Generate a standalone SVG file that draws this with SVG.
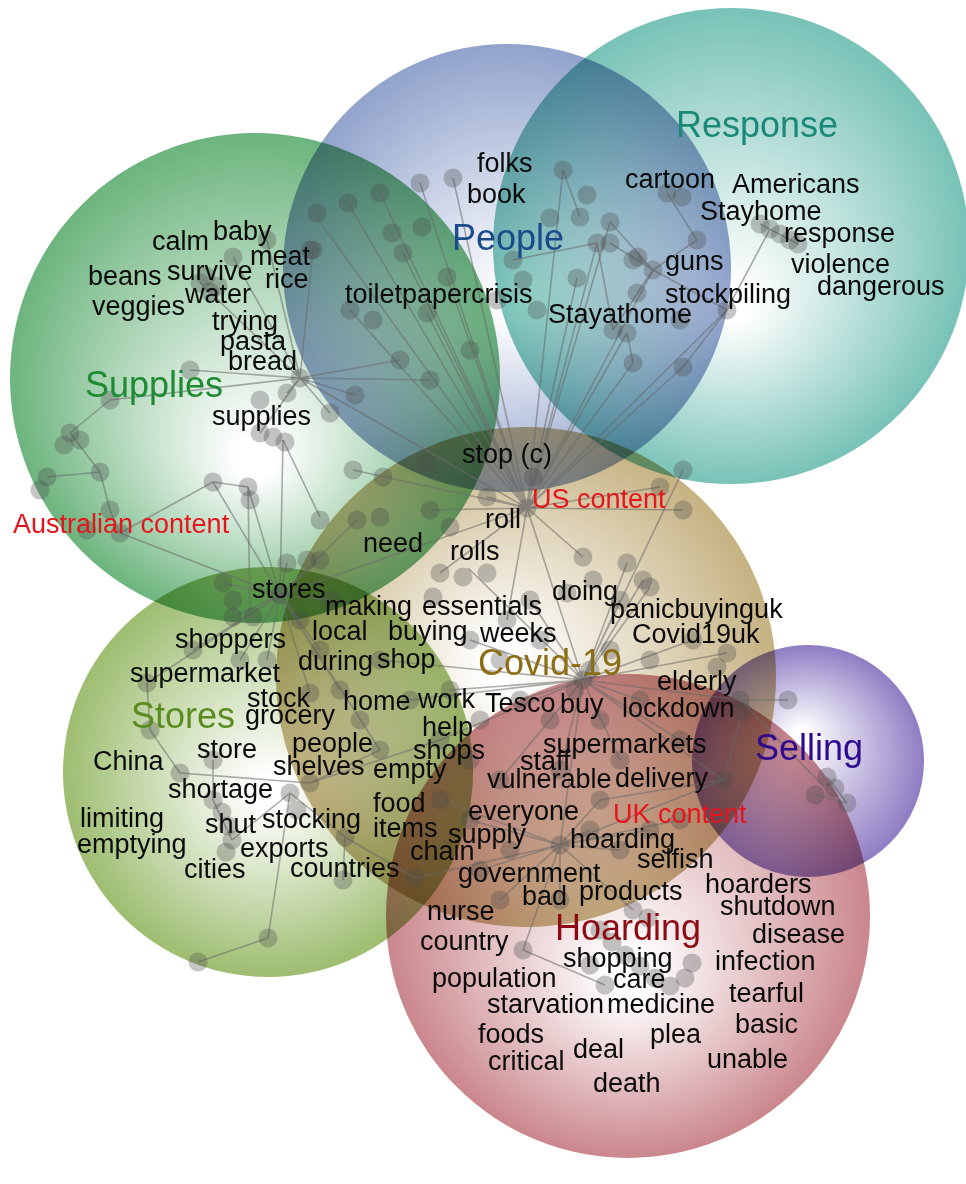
<svg xmlns="http://www.w3.org/2000/svg" width="966" height="1184" viewBox="0 0 966 1184">
  <defs>
    <radialGradient id="g-supplies" cx="0.5" cy="0.5" r="0.5" fx="0.5" fy="0.68">
      <stop offset="0.08" stop-color="#ffffff"/>
      <stop offset="1" stop-color="#6cb47d"/>
    </radialGradient>
    <radialGradient id="g-people" cx="0.5" cy="0.5" r="0.5" fx="0.53" fy="0.58">
      <stop offset="0.08" stop-color="#ffffff"/>
      <stop offset="1" stop-color="#91a3cc"/>
    </radialGradient>
    <radialGradient id="g-response" cx="0.5" cy="0.5" r="0.5" fx="0.5" fy="0.63">
      <stop offset="0.08" stop-color="#ffffff"/>
      <stop offset="1" stop-color="#78c2b7"/>
    </radialGradient>
    <radialGradient id="g-covid" cx="0.5" cy="0.5" r="0.5" fx="0.45" fy="0.47">
      <stop offset="0.08" stop-color="#ffffff"/>
      <stop offset="1" stop-color="#c6b282"/>
    </radialGradient>
    <radialGradient id="g-stores" cx="0.5" cy="0.5" r="0.5" fx="0.5" fy="0.55">
      <stop offset="0.08" stop-color="#ffffff"/>
      <stop offset="1" stop-color="#9dbd70"/>
    </radialGradient>
    <radialGradient id="g-hoarding" cx="0.5" cy="0.5" r="0.5" fx="0.5" fy="0.64">
      <stop offset="0.08" stop-color="#ffffff"/>
      <stop offset="1" stop-color="#ca878c"/>
    </radialGradient>
    <radialGradient id="g-selling" cx="0.5" cy="0.5" r="0.5" fx="0.47" fy="0.38">
      <stop offset="0.05" stop-color="#ffffff"/>
      <stop offset="1" stop-color="#8f7dc4"/>
    </radialGradient>
    <style>
      .topic { mix-blend-mode: multiply; }
      .dots circle { fill: #4a4a4a; fill-opacity: 0.32; }
      .links { fill: none; stroke: #6a6a6a; stroke-opacity: 0.55; stroke-width: 1.6; }
      text { font-family: "Liberation Sans", Arial, sans-serif; }
      .w { font-size: 27px; fill: #0a0a0a; }
      .cat { font-size: 36px; }
      .region { font-size: 27px; fill: #e8141c; }
    </style>
  </defs>

  <rect width="966" height="1184" fill="#ffffff"/>

  <!-- topic circles -->
  <g id="topic-circles">
    <g id="circle-supplies"><circle class="topic" cx="255" cy="378" r="245" fill="url(#g-supplies)"/></g>
    <g id="circle-people"><circle class="topic" cx="507" cy="268" r="224" fill="url(#g-people)"/></g>
    <g id="circle-response"><circle class="topic" cx="731" cy="246" r="238" fill="url(#g-response)"/></g>
    <g id="circle-stores"><circle class="topic" cx="268" cy="772" r="205" fill="url(#g-stores)"/></g>
    <g id="circle-covid"><circle class="topic" cx="526" cy="677" r="250" fill="url(#g-covid)"/></g>
    <g id="circle-hoarding"><circle class="topic" cx="628" cy="916" r="242" fill="url(#g-hoarding)"/></g>
    <g id="circle-selling"><circle class="topic" cx="808" cy="761" r="116" fill="url(#g-selling)"/></g>
  </g>

  <!-- co-occurrence links -->
  <g id="connectors" class="links">
    <path d="M527 508L317 218M527 508L348 203M527 508L380 193M527 508L420 183M527 508L453 178M527 508L403 253M527 508L447 277M527 508L563 170M527 508L597 243M527 508L610 222M527 508L653 270M527 508L727 310M527 508L627 333M527 508L350 310M527 508L427 313M527 508L353 470M527 508L430 510M527 508L487 497M527 508L533 477M527 508L660 487M527 508L683 510M527 508L583 557M527 508L583 680M527 508L507 620M527 508L440 573M527 508L633 363M527 508L577 278M527 508L683 367M527 508L280 595M527 508L300 378"/>
    <path d="M583 680L627 563M583 680L643 580M583 680L650 587M583 680L693 640M583 680L727 653M583 680L740 700M583 680L600 720M583 680L640 700M583 680L520 700M583 680L470 640M583 680L450 690M583 680L500 780M583 680L560 770M583 680L620 760M583 680L680 740M583 680L410 700M583 680L380 660M583 680L468 568M583 680L530 600M583 680L620 600M583 680L723 780M583 680L560 845M583 680L683 470M583 680L440 740"/>
    <path d="M560 845L523 950M560 845L633 910M560 845L500 900M560 845L480 870M560 845L470 820M560 845L440 800M560 845L600 800M560 845L650 830M560 845L680 820M560 845L590 830M560 845L620 850M560 845L415 878M560 845L723 780M560 845L560 900"/>
    <path d="M280 595L120 533M280 595L248 487M280 595L213 482M280 595L283 440M280 595L223 583M280 595L233 617M280 595L193 650M280 595L240 660M280 595L267 660M280 595L310 693M280 595L300 620M280 595L320 650M280 595L330 600M280 595L287 563M280 595L320 560M280 595L357 520M280 595L147 683M280 595L380 750M280 595L340 690"/>
    <path d="M300 378L200 283M300 378L233 257M300 378L267 240M300 378L313 250M300 378L190 370M300 378L110 400M300 378L287 393M300 378L330 413M300 378L260 433M300 378L400 360M300 378L430 380M300 378L355 395"/>
    <path d="M653 270L697 240M653 270L610 243M653 270L638 257M653 270L637 293M653 270L727 310M653 270L610 222M653 270L613 330M697 240L667 193M727 310L770 229M727 310L683 367M760 224L798 244M627 333L633 363"/>
    <path d="M70 433L100 472M47 477L100 472M100 472L110 510M110 510L120 533M120 533L213 482M213 482L248 487M248 487L250 617M283 440L320 517M110 400L70 433"/>
    <path d="M180 773L310 783M290 793L268 938M268 938L198 962M213 760L213 800M213 800L232 840M180 773L150 730M150 730L147 683M290 793L345 837M345 837L415 878M343 880L345 837M310 783L380 750M232 840L290 793M310 783L440 740"/>
    <path d="M513 260L597 243M597 243L613 330M563 170L580 217"/>
    <path d="M740 700L788 700M740 700L827 790M827 777L847 803M815 795L847 803M743 712L723 780M723 780L600 800M523 950L605 985"/>
  </g>

  <!-- term nodes -->
  <g id="term-dots" class="dots">
    <!-- supplies / australia -->
    <circle cx="317" cy="213" r="9.5"/><circle cx="313" cy="250" r="9.5"/><circle cx="267" cy="240" r="9.5"/><circle cx="233" cy="257" r="9.5"/>
    <circle cx="200" cy="283" r="9.5"/><circle cx="210" cy="292" r="9.5"/><circle cx="206" cy="276" r="9.5"/><circle cx="218" cy="286" r="9.5"/>
    <circle cx="300" cy="378" r="9.5"/><circle cx="287" cy="393" r="9.5"/><circle cx="190" cy="370" r="9.5"/><circle cx="110" cy="400" r="9.5"/>
    <circle cx="70" cy="433" r="9.5"/><circle cx="80" cy="440" r="9.5"/><circle cx="64" cy="445" r="9.5"/><circle cx="260" cy="400" r="9.5"/>
    <circle cx="330" cy="413" r="9.5"/><circle cx="273" cy="437" r="9.5"/><circle cx="285" cy="442" r="9.5"/><circle cx="47" cy="477" r="9.5"/>
    <circle cx="40" cy="490" r="9.5"/><circle cx="100" cy="472" r="9.5"/><circle cx="110" cy="510" r="9.5"/><circle cx="87" cy="530" r="9.5"/>
    <circle cx="120" cy="533" r="9.5"/><circle cx="213" cy="482" r="9.5"/><circle cx="248" cy="487" r="9.5"/><circle cx="250" cy="500" r="9.5"/>
    <circle cx="260" cy="433" r="9.5"/><circle cx="355" cy="395" r="9.5"/>
    <!-- stores -->
    <circle cx="287" cy="563" r="9.5"/><circle cx="307" cy="560" r="9.5"/><circle cx="320" cy="560" r="9.5"/><circle cx="223" cy="583" r="9.5"/>
    <circle cx="233" cy="600" r="9.5"/><circle cx="233" cy="617" r="9.5"/><circle cx="253" cy="617" r="9.5"/><circle cx="193" cy="650" r="9.5"/>
    <circle cx="240" cy="660" r="9.5"/><circle cx="267" cy="660" r="9.5"/><circle cx="147" cy="683" r="9.5"/><circle cx="150" cy="730" r="9.5"/>
    <circle cx="310" cy="693" r="9.5"/><circle cx="180" cy="773" r="9.5"/><circle cx="213" cy="760" r="9.5"/><circle cx="213" cy="800" r="9.5"/>
    <circle cx="222" cy="812" r="9.5"/><circle cx="228" cy="826" r="9.5"/><circle cx="232" cy="840" r="9.5"/><circle cx="226" cy="852" r="9.5"/>
    <circle cx="290" cy="793" r="9.5"/><circle cx="297" cy="810" r="9.5"/><circle cx="310" cy="783" r="9.5"/><circle cx="268" cy="938" r="9.5"/>
    <circle cx="198" cy="962" r="9.5"/><circle cx="345" cy="837" r="9.5"/><circle cx="343" cy="880" r="9.5"/><circle cx="415" cy="878" r="9.5"/>
    <circle cx="380" cy="750" r="9.5"/><circle cx="300" cy="620" r="9.5"/><circle cx="320" cy="650" r="9.5"/><circle cx="340" cy="690" r="9.5"/>
    <circle cx="360" cy="720" r="9.5"/><circle cx="330" cy="600" r="9.5"/><circle cx="280" cy="595" r="9.5"/>
    <!-- people -->
    <circle cx="348" cy="203" r="9.5"/><circle cx="380" cy="193" r="9.5"/><circle cx="420" cy="183" r="9.5"/><circle cx="453" cy="178" r="9.5"/>
    <circle cx="310" cy="250" r="9.5"/><circle cx="392" cy="233" r="9.5"/><circle cx="422" cy="227" r="9.5"/><circle cx="403" cy="253" r="9.5"/>
    <circle cx="447" cy="277" r="9.5"/><circle cx="427" cy="313" r="9.5"/><circle cx="350" cy="310" r="9.5"/><circle cx="373" cy="320" r="9.5"/>
    <circle cx="497" cy="300" r="9.5"/><circle cx="513" cy="260" r="9.5"/><circle cx="523" cy="280" r="9.5"/><circle cx="537" cy="310" r="9.5"/>
    <circle cx="563" cy="170" r="9.5"/><circle cx="587" cy="195" r="9.5"/><circle cx="550" cy="218" r="9.5"/><circle cx="580" cy="217" r="9.5"/>
    <circle cx="610" cy="222" r="9.5"/><circle cx="597" cy="243" r="9.5"/><circle cx="577" cy="278" r="9.5"/><circle cx="633" cy="260" r="9.5"/>
    <circle cx="653" cy="270" r="9.5"/><circle cx="637" cy="293" r="9.5"/><circle cx="613" cy="330" r="9.5"/><circle cx="400" cy="360" r="9.5"/>
    <circle cx="430" cy="380" r="9.5"/><circle cx="470" cy="350" r="9.5"/>
    <!-- response -->
    <circle cx="667" cy="193" r="9.5"/><circle cx="682" cy="197" r="9.5"/><circle cx="697" cy="240" r="9.5"/><circle cx="610" cy="243" r="9.5"/>
    <circle cx="638" cy="257" r="9.5"/><circle cx="727" cy="310" r="9.5"/><circle cx="680" cy="320" r="9.5"/><circle cx="627" cy="333" r="9.5"/>
    <circle cx="633" cy="363" r="9.5"/><circle cx="683" cy="367" r="9.5"/><circle cx="760" cy="224" r="9.5"/><circle cx="770" cy="229" r="9.5"/>
    <circle cx="780" cy="234" r="9.5"/><circle cx="790" cy="240" r="9.5"/><circle cx="798" cy="244" r="9.5"/>
    <!-- covid-19 -->
    <circle cx="353" cy="470" r="9.5"/><circle cx="383" cy="477" r="9.5"/><circle cx="427" cy="463" r="9.5"/><circle cx="320" cy="520" r="9.5"/>
    <circle cx="357" cy="520" r="9.5"/><circle cx="380" cy="517" r="9.5"/><circle cx="430" cy="510" r="9.5"/><circle cx="450" cy="527" r="9.5"/>
    <circle cx="487" cy="497" r="9.5"/><circle cx="527" cy="508" r="9.5"/><circle cx="533" cy="477" r="9.5"/><circle cx="583" cy="557" r="9.5"/>
    <circle cx="660" cy="487" r="9.5"/><circle cx="683" cy="470" r="9.5"/><circle cx="683" cy="510" r="9.5"/><circle cx="440" cy="573" r="9.5"/>
    <circle cx="463" cy="577" r="9.5"/><circle cx="487" cy="573" r="9.5"/><circle cx="433" cy="597" r="9.5"/><circle cx="627" cy="563" r="9.5"/>
    <circle cx="643" cy="580" r="9.5"/><circle cx="593" cy="580" r="9.5"/><circle cx="507" cy="620" r="9.5"/><circle cx="567" cy="593" r="9.5"/>
    <circle cx="530" cy="600" r="9.5"/><circle cx="620" cy="600" r="9.5"/><circle cx="650" cy="587" r="9.5"/><circle cx="693" cy="640" r="9.5"/>
    <circle cx="727" cy="653" r="9.5"/><circle cx="717" cy="667" r="9.5"/><circle cx="740" cy="700" r="9.5"/><circle cx="743" cy="712" r="9.5"/>
    <circle cx="788" cy="700" r="9.5"/><circle cx="723" cy="780" r="9.5"/><circle cx="470" cy="640" r="9.5"/><circle cx="500" cy="660" r="9.5"/>
    <circle cx="540" cy="640" r="9.5"/><circle cx="610" cy="650" r="9.5"/><circle cx="650" cy="660" r="9.5"/><circle cx="450" cy="690" r="9.5"/>
    <circle cx="480" cy="720" r="9.5"/><circle cx="520" cy="700" r="9.5"/><circle cx="550" cy="720" r="9.5"/><circle cx="600" cy="720" r="9.5"/>
    <circle cx="640" cy="700" r="9.5"/><circle cx="470" cy="760" r="9.5"/><circle cx="500" cy="780" r="9.5"/><circle cx="560" cy="770" r="9.5"/>
    <circle cx="620" cy="760" r="9.5"/><circle cx="680" cy="740" r="9.5"/><circle cx="440" cy="740" r="9.5"/><circle cx="410" cy="700" r="9.5"/>
    <circle cx="380" cy="660" r="9.5"/><circle cx="583" cy="680" r="9.5"/><circle cx="590" cy="670" r="9.5"/><circle cx="575" cy="690" r="9.5"/>
    <!-- hoarding / uk -->
    <circle cx="523" cy="950" r="9.5"/><circle cx="600" cy="930" r="9.5"/><circle cx="612" cy="942" r="9.5"/><circle cx="625" cy="955" r="9.5"/>
    <circle cx="640" cy="966" r="9.5"/><circle cx="655" cy="978" r="9.5"/><circle cx="670" cy="986" r="9.5"/><circle cx="685" cy="978" r="9.5"/>
    <circle cx="692" cy="963" r="9.5"/><circle cx="633" cy="910" r="9.5"/><circle cx="648" cy="918" r="9.5"/><circle cx="560" cy="900" r="9.5"/>
    <circle cx="500" cy="900" r="9.5"/><circle cx="480" cy="870" r="9.5"/><circle cx="510" cy="850" r="9.5"/><circle cx="560" cy="845" r="9.5"/>
    <circle cx="590" cy="830" r="9.5"/><circle cx="620" cy="850" r="9.5"/><circle cx="650" cy="830" r="9.5"/><circle cx="470" cy="820" r="9.5"/>
    <circle cx="440" cy="800" r="9.5"/><circle cx="600" cy="800" r="9.5"/><circle cx="680" cy="820" r="9.5"/><circle cx="590" cy="965" r="9.5"/>
    <circle cx="605" cy="985" r="9.5"/>
    <!-- selling -->
    <circle cx="827" cy="777" r="9.5"/><circle cx="815" cy="795" r="9.5"/><circle cx="847" cy="803" r="9.5"/><circle cx="835" cy="788" r="9.5"/>
  </g>

  <!-- labels -->
  <g id="node-supplies">
    <text class="cat" x="85" y="397" fill="#1e8c32">Supplies</text>
    <text class="w" x="152" y="250">calm</text>
    <text class="w" x="213" y="240">baby</text>
    <text class="w" x="250" y="265">meat</text>
    <text class="w" x="88" y="285">beans</text>
    <text class="w" x="167" y="280">survive</text>
    <text class="w" x="265" y="288">rice</text>
    <text class="w" x="185" y="303">water</text>
    <text class="w" x="92" y="315">veggies</text>
    <text class="w" x="212" y="330">trying</text>
    <text class="w" x="220" y="350">pasta</text>
    <text class="w" x="228" y="370">bread</text>
    <text class="w" x="212" y="425">supplies</text>
  </g>
  <g id="node-people">
    <text class="cat" x="452" y="250" fill="#1a4a8a">People</text>
    <text class="w" x="477" y="172">folks</text>
    <text class="w" x="467" y="203">book</text>
    <text class="w" x="345" y="303">toiletpapercrisis</text>
    <text class="w" x="548" y="323">Stayathome</text>
  </g>
  <g id="node-response">
    <text class="cat" x="676" y="137" fill="#1a8a78">Response</text>
    <text class="w" x="625" y="188">cartoon</text>
    <text class="w" x="732" y="193">Americans</text>
    <text class="w" x="700" y="220">Stayhome</text>
    <text class="w" x="784" y="242">response</text>
    <text class="w" x="665" y="270">guns</text>
    <text class="w" x="791" y="273">violence</text>
    <text class="w" x="817" y="295">dangerous</text>
    <text class="w" x="665" y="303">stockpiling</text>
  </g>
  <g id="node-covid">
    <text class="cat" x="478" y="675" fill="#8c6d14">Covid-19</text>
    <text class="w" x="462" y="463">stop (c)</text>
    <text class="w" x="485" y="528">roll</text>
    <text class="w" x="363" y="552">need</text>
    <text class="w" x="450" y="560">rolls</text>
    <text class="w" x="552" y="600">doing</text>
    <text class="w" x="325" y="615">making</text>
    <text class="w" x="422" y="615">essentials</text>
    <text class="w" x="610" y="618">panicbuyinguk</text>
    <text class="w" x="312" y="640">local</text>
    <text class="w" x="388" y="640">buying</text>
    <text class="w" x="480" y="642">weeks</text>
    <text class="w" x="632" y="643">Covid19uk</text>
    <text class="w" x="298" y="670">during</text>
    <text class="w" x="377" y="668">shop</text>
    <text class="w" x="657" y="690">elderly</text>
    <text class="w" x="343" y="710">home</text>
    <text class="w" x="418" y="708">work</text>
    <text class="w" x="485" y="712">Tesco</text>
    <text class="w" x="560" y="713">buy</text>
    <text class="w" x="622" y="717">lockdown</text>
    <text class="w" x="422" y="736">help</text>
    <text class="w" x="292" y="752">people</text>
    <text class="w" x="413" y="759">shops</text>
    <text class="w" x="543" y="753">supermarkets</text>
    <text class="w" x="520" y="770">staff</text>
    <text class="w" x="273" y="775">shelves</text>
    <text class="w" x="373" y="778">empty</text>
    <text class="w" x="487" y="788">vulnerable</text>
    <text class="w" x="615" y="787">delivery</text>
    <text class="w" x="373" y="812">food</text>
    <text class="w" x="468" y="820">everyone</text>
    <text class="w" x="373" y="837">items</text>
    <text class="w" x="448" y="843">supply</text>
    <text class="w" x="570" y="848">hoarding</text>
    <text class="w" x="410" y="860">chain</text>
    <text class="w" x="637" y="868">selfish</text>
    <text class="w" x="458" y="882">government</text>
  </g>
  <g id="node-stores">
    <text class="cat" x="131" y="728" fill="#5a8c1e">Stores</text>
    <text class="w" x="252" y="598">stores</text>
    <text class="w" x="175" y="648">shoppers</text>
    <text class="w" x="130" y="682">supermarket</text>
    <text class="w" x="247" y="707">stock</text>
    <text class="w" x="245" y="724">grocery</text>
    <text class="w" x="197" y="758">store</text>
    <text class="w" x="93" y="770">China</text>
    <text class="w" x="168" y="798">shortage</text>
    <text class="w" x="80" y="827">limiting</text>
    <text class="w" x="205" y="833">shut</text>
    <text class="w" x="262" y="828">stocking</text>
    <text class="w" x="77" y="853">emptying</text>
    <text class="w" x="240" y="857">exports</text>
    <text class="w" x="184" y="878">cities</text>
    <text class="w" x="290" y="877">countries</text>
  </g>
  <g id="node-hoarding">
    <text class="cat" x="555" y="940" fill="#8c0a14">Hoarding</text>
    <text class="w" x="522" y="905">bad</text>
    <text class="w" x="579" y="900">products</text>
    <text class="w" x="705" y="893">hoarders</text>
    <text class="w" x="720" y="915">shutdown</text>
    <text class="w" x="427" y="920">nurse</text>
    <text class="w" x="752" y="943">disease</text>
    <text class="w" x="420" y="950">country</text>
    <text class="w" x="563" y="967">shopping</text>
    <text class="w" x="715" y="970">infection</text>
    <text class="w" x="432" y="987">population</text>
    <text class="w" x="613" y="988">care</text>
    <text class="w" x="729" y="1002">tearful</text>
    <text class="w" x="487" y="1013">starvation</text>
    <text class="w" x="607" y="1013">medicine</text>
    <text class="w" x="735" y="1033">basic</text>
    <text class="w" x="478" y="1043">foods</text>
    <text class="w" x="650" y="1043">plea</text>
    <text class="w" x="573" y="1058">deal</text>
    <text class="w" x="488" y="1070">critical</text>
    <text class="w" x="707" y="1068">unable</text>
    <text class="w" x="593" y="1092">death</text>
  </g>
  <g id="node-selling">
    <text class="cat" x="755" y="760" fill="#2d0a8c">Selling</text>
  </g>
  <g id="region-labels">
    <text class="region" x="13" y="533">Australian content</text>
    <text class="region" x="532" y="508">US content</text>
    <text class="region" x="613" y="823">UK content</text>
  </g>
</svg>
